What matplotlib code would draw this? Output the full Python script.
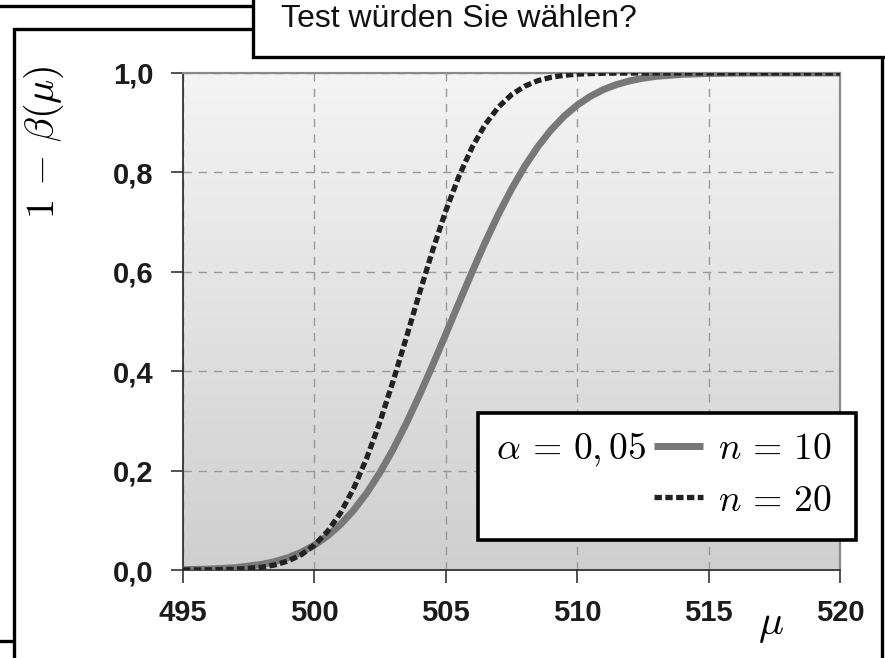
import matplotlib
matplotlib.use("Agg")
import matplotlib.pyplot as plt
import numpy as np
from matplotlib.lines import Line2D
from matplotlib.patches import Rectangle

plt.rcParams["font.family"] = ["Liberation Sans", "DejaVu Sans"]
plt.rcParams["mathtext.fontset"] = "cm"

# power curve 1 - beta(mu), read at integer / half steps of mu
mu = [495, 496, 497, 498, 498.5, 499, 499.5, 500, 500.5, 501, 501.5, 502, 502.5,
      503, 503.5, 504, 504.5, 505, 505.5, 506, 506.5, 507, 507.5, 508, 508.5,
      509, 509.5, 510, 510.5, 511, 511.5, 512, 512.5, 513, 514, 515, 516, 517,
      518, 519, 520]
power_n10 = [0.0006, 0.0018, 0.0047, 0.0114, 0.0170, 0.0249, 0.0357, 0.050,
             0.0685, 0.0919, 0.1208, 0.1556, 0.1965, 0.2432, 0.2953, 0.352,
             0.4122, 0.4746, 0.5375, 0.5995, 0.6595, 0.7153, 0.7664, 0.8120,
             0.8515, 0.8852, 0.9130, 0.9354, 0.9530, 0.9667, 0.9768, 0.9842,
             0.9895, 0.9932, 0.9973, 0.9990, 0.9997, 0.9999, 1.0, 1.0, 1.0]
power_n20 = [0.00005, 0.0003, 0.0014, 0.0056, 0.0103, 0.0182, 0.0308, 0.050,
             0.0776, 0.1155, 0.1650, 0.2264, 0.2991, 0.3809, 0.4681, 0.5573,
             0.6432, 0.7228, 0.7925, 0.8504, 0.8965, 0.9313, 0.9563, 0.9734,
             0.9845, 0.9913, 0.9954, 0.9977, 0.9988, 0.9995, 0.9998, 0.9999,
             1.0, 1.0, 1.0, 1.0, 1.0, 1.0, 1.0, 1.0, 1.0]

x_ticks = [495, 500, 505, 510, 515, 520]
y_ticks = [0.0, 0.2, 0.4, 0.6, 0.8, 1.0]
y_ticklabels = ["0,0", "0,2", "0,4", "0,6", "0,8", "1,0"]

W, H = 885, 658
fig = plt.figure(figsize=(W / 100, H / 100), dpi=100)


def fx(px):
    return px / W


def fy(py):
    return 1 - py / H


# slide frames behind the chart
fig.add_artist(Line2D([fx(-5), fx(255)], [fy(6), fy(6)], color="black", lw=2.4, zorder=1))
fig.add_artist(Line2D([fx(-5), fx(14)], [fy(641), fy(641)], color="black", lw=2.4, zorder=1))
fig.add_artist(Rectangle((fx(14), fy(700)), fx(868), fy(29) - fy(700), facecolor="white",
                         edgecolor="black", lw=2.4, zorder=2))
fig.add_artist(Rectangle((fx(253), fy(57)), fx(700), fy(-20) - fy(57), facecolor="white",
                         edgecolor="black", lw=2.4, zorder=3))
fig.text(fx(281), fy(27), "Test würden Sie wählen?", fontsize=23, va="baseline",
         ha="left", color="#111111", zorder=4)

ax = fig.add_axes([fx(183), fy(570), fx(840) - fx(183), fy(73) - fy(570)])
ax.set_zorder(5)
ax.set_xlim(495, 520)
ax.set_ylim(0, 1)

# vertical grey gradient behind the curves
grad = np.linspace(0, 1, 256).reshape(-1, 1)
ax.imshow(grad, extent=[495, 520, 0, 1], aspect="auto", origin="lower",
          cmap=matplotlib.colors.LinearSegmentedColormap.from_list("bg", ["#cfcfd0", "#f4f4f4"]),
          zorder=0)

ax.grid(True, color="#9a9a9a", linestyle=(0, (6, 5)), lw=1.0, zorder=1)

dots = (0, (1.4, 0.65))
ax.plot(mu, power_n10, color="#787878", lw=5.0, solid_capstyle="butt", zorder=3)
ax.plot(mu, power_n20, color="#222222", lw=3.8, linestyle=dots,
        dash_capstyle="butt", zorder=4)

for side in ["top", "right"]:
    ax.spines[side].set_color("#8a8a8a")
    ax.spines[side].set_linewidth(1.6)
for side in ["left", "bottom"]:
    ax.spines[side].set_color("#333333")
    ax.spines[side].set_linewidth(1.3)

ax.set_xticks(x_ticks)
ax.set_xticklabels([str(t) for t in x_ticks])
ax.set_yticks(y_ticks)
ax.set_yticklabels(y_ticklabels)
ax.tick_params(axis="both", direction="out", length=9, width=1.2, color="#333333",
               labelsize=21, labelcolor="#1c1c1c")
ax.tick_params(axis="x", pad=12)
ax.tick_params(axis="y", pad=12)
for lab in ax.get_xticklabels() + ax.get_yticklabels():
    lab.set_fontweight("bold")

# axis labels in math font
fig.text(fx(44), fy(142), r"$1\,-\,\beta(\mu)$", fontsize=29, rotation=90,
         ha="center", va="center", zorder=6)
fig.text(fx(771), fy(625), r"$\mu$", fontsize=30, ha="center", va="center",
         zorder=6, bbox=dict(facecolor="white", edgecolor="none", pad=1))

# legend box
box = Rectangle((0.449, 0.060), 0.575, 0.256, transform=ax.transAxes,
                facecolor="white", edgecolor="black", lw=2.6, zorder=6, clip_on=False)
ax.add_patch(box)
handles = [
    Line2D([0], [0], color="#787878", lw=5.0, solid_capstyle="butt"),
    Line2D([0], [0], color="#222222", lw=3.8, linestyle=dots, dash_capstyle="butt"),
]
leg = ax.legend(handles, [r"$n\,=\,10$", r"$n\,=\,20$"], loc="upper left",
                bbox_to_anchor=(0.717, 0.28), frameon=False, fontsize=27,
                handlelength=1.3, handletextpad=0.4, labelspacing=0.42,
                borderpad=0.0, borderaxespad=0.0)
leg.set_zorder(7)
ax.text(0.477, 0.243, r"$\alpha\,=\,0,05$", transform=ax.transAxes, fontsize=27,
        ha="left", va="center", zorder=7)

fig.savefig("out.png", dpi=100)
